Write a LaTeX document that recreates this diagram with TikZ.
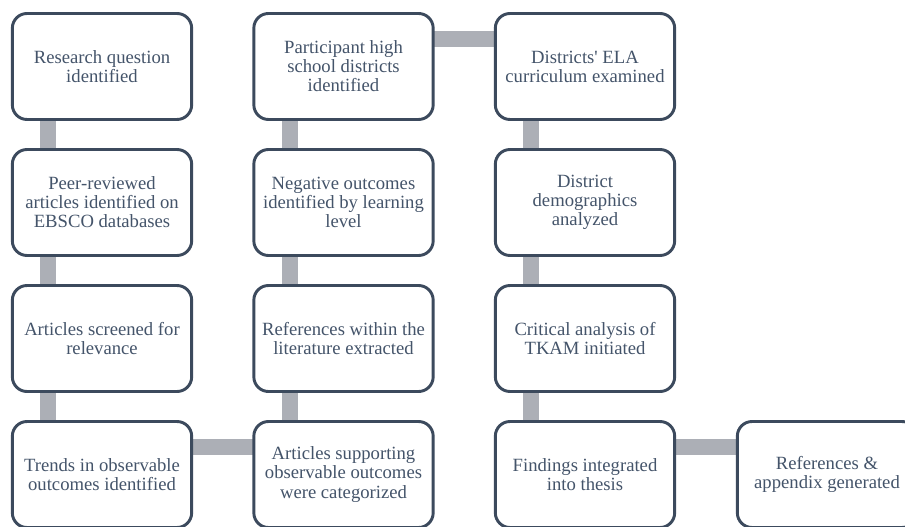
\documentclass[tikz,border=0pt]{standalone}
\usepackage{fontspec}
\IfFontExistsTF{LiberationSerif-Regular.ttf}
  {\setmainfont{LiberationSerif-Regular.ttf}[BoldFont=LiberationSerif-Bold.ttf]}
  {\setmainfont{Liberation Serif}}
\usepackage{tikz}
\usetikzlibrary{backgrounds}
\definecolor{boxline}{HTML}{3C4A5D}
\definecolor{boxtext}{HTML}{44546A}
\definecolor{barcol}{HTML}{ACAFB6}

\begin{document}
\begin{tikzpicture}[
  x=0.75pt, y=-0.75pt,
  every node/.style={font=\rmfamily\fontsize{14}{14.3}\selectfont},
  stage/.style={draw=boxline, line width=2.2pt, fill=white, rounded corners=11pt,
    minimum width=134.5pt, minimum height=79.5pt, align=center, text=boxtext, inner sep=2pt},
  bar/.style={draw=barcol, line width=12pt}
]
\useasboundingbox (0,0) rectangle (905,527);
\clip (0,0) rectangle (905,527);

\node[stage] (question)  at (102,66.5)  {Research question\\identified};
\node[stage] (peer)      at (102,202.5) {Peer-reviewed\\articles identified on\\EBSCO databases};
\node[stage] (screened)  at (102,338.5) {Articles screened for\\relevance};
\node[stage] (trends)    at (102,474.5) {Trends in observable\\outcomes identified};

\node[stage] (districts) at (343.5,66.5)  {Participant high\\school districts\\identified};
\node[stage] (negative)  at (343.5,202.5) {Negative outcomes\\identified by learning\\level};
\node[stage] (refs)      at (343.5,338.5) {References within the\\literature extracted};
\node[stage] (support)   at (343.5,474.5) {Articles supporting\\observable outcomes\\were categorized};

\node[stage] (ela)       at (585,66.5)  {Districts\textquotesingle{} ELA\\curriculum examined};
\node[stage] (demo)      at (585,202.5) {District\\demographics\\analyzed};
\node[stage] (tkam)      at (585,338.5) {Critical analysis of\\TKAM initiated};
\node[stage] (findings)  at (585,474.5) {Findings integrated\\into thesis};

\node[stage] (appendix)  at (827,474.5) {References \&\\appendix generated};

% connecting bars behind the boxes
\begin{scope}[on background layer]
  \draw[bar] ([xshift=-40.5pt]question.center) -- ([xshift=-40.5pt]trends.center);
  \draw[bar] ([yshift=20.6pt]trends.center) -- ([yshift=20.6pt]support.center);
  \draw[bar] ([xshift=-40pt]support.center) -- ([xshift=-40pt]districts.center);
  \draw[bar] ([yshift=20.6pt]districts.center) -- ([yshift=20.6pt]ela.center);
  \draw[bar] ([xshift=-40.5pt]ela.center) -- ([xshift=-40.5pt]findings.center);
  \draw[bar] ([yshift=20.6pt]findings.center) -- ([yshift=20.6pt]appendix.center);
\end{scope}
\end{tikzpicture}
\end{document}
